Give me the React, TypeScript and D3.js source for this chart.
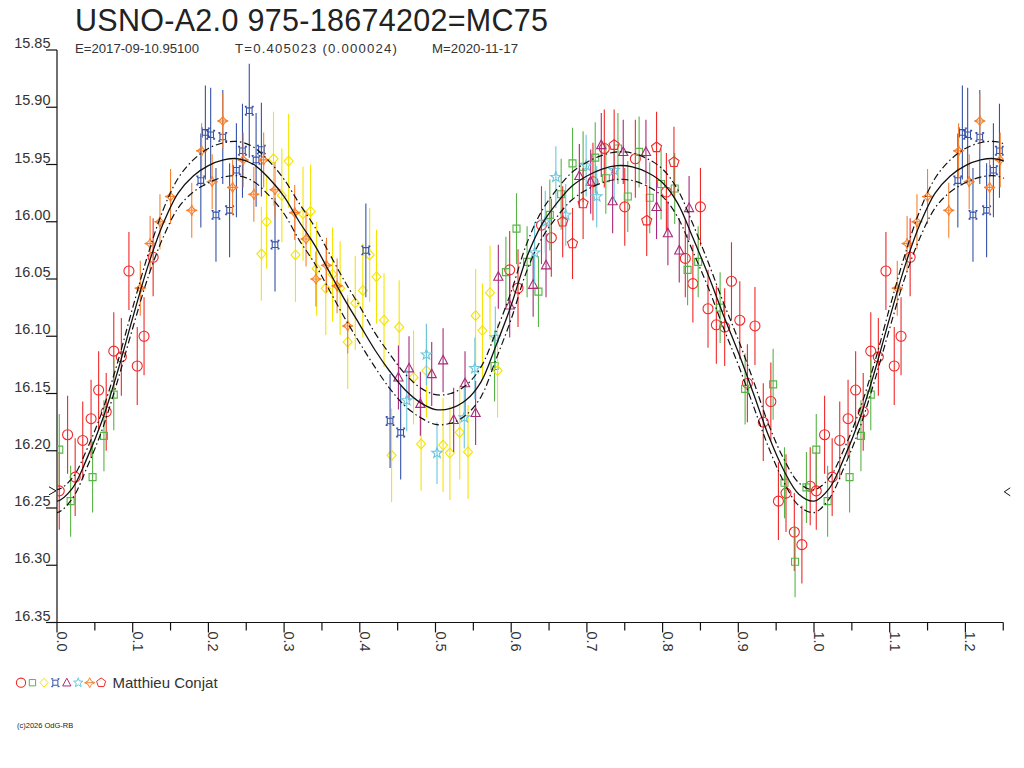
import React, { useEffect, useRef } from 'react';
import * as d3 from 'd3';

// phase / magnitude pairs, one list per observer symbol
const redCircles: [number, number][] = [
  [0.003, 16.235], [0.014, 16.186], [0.024, 16.223], [0.034, 16.191], [0.045, 16.172],
  [0.055, 16.147], [0.065, 16.166], [0.075, 16.113], [0.085, 16.118], [0.095, 16.043],
  [0.106, 16.126], [0.115, 16.100], [0.127, 16.031], [0.598, 16.042], [0.609, 16.058],
  [0.640, 16.003], [0.653, 16.014], [0.708, 15.965], [0.723, 15.936], [0.750, 15.987],
  [0.764, 15.945], [0.805, 15.974], [0.830, 16.032], [0.840, 16.054], [0.850, 15.987],
  [0.860, 16.076], [0.871, 16.090], [0.882, 16.092], [0.891, 16.052], [0.902, 16.086],
  [0.912, 16.141], [0.922, 16.091], [0.933, 16.175], [0.943, 16.157], [0.953, 16.244],
  [0.963, 16.237], [0.974, 16.271], [0.984, 16.282], [0.995, 16.231],
];
const greenSquares: [number, number][] = [
  [0.003, 16.199], [0.018, 16.244], [0.047, 16.223], [0.062, 16.187], [0.075, 16.151],
  [0.578, 16.126], [0.593, 16.044], [0.607, 16.006], [0.621, 16.035], [0.636, 16.061],
  [0.651, 15.994], [0.666, 15.976], [0.681, 15.949], [0.695, 15.952], [0.711, 15.944],
  [0.725, 15.962], [0.741, 15.936], [0.754, 15.978], [0.769, 15.939], [0.783, 15.979],
  [0.798, 15.967], [0.816, 15.971], [0.833, 16.042], [0.847, 16.035], [0.876, 16.075],
  [0.909, 16.146], [0.946, 16.142], [0.961, 16.228], [0.975, 16.297], [0.990, 16.232],
];
const yellowDiamonds: [number, number][] = [
  [0.270, 16.028], [0.277, 16.000], [0.286, 15.945], [0.297, 15.977], [0.306, 15.947],
  [0.315, 16.029], [0.325, 15.993], [0.335, 15.991], [0.343, 16.041], [0.355, 16.058],
  [0.364, 16.046], [0.374, 16.058], [0.384, 16.105], [0.394, 16.071], [0.404, 16.060],
  [0.413, 16.029], [0.422, 16.048], [0.432, 16.086], [0.442, 16.204], [0.452, 16.092],
  [0.471, 16.136], [0.481, 16.194], [0.488, 16.130], [0.510, 16.195], [0.519, 16.202],
  [0.532, 16.184], [0.543, 16.201], [0.553, 16.082], [0.562, 16.095], [0.572, 16.062],
  [0.582, 16.130],
];
const blueCrosses: [number, number][] = [
  [0.190, 15.964], [0.196, 15.922], [0.203, 15.924], [0.210, 15.994], [0.219, 15.926],
  [0.228, 15.990], [0.237, 15.955], [0.245, 15.938], [0.254, 15.903], [0.263, 15.946],
  [0.270, 15.937], [0.288, 16.020], [0.408, 16.025], [0.440, 16.174], [0.454, 16.184],
];
const purpleTriangles: [number, number][] = [
  [0.451, 16.136], [0.465, 16.128], [0.480, 16.159], [0.495, 16.133], [0.510, 16.121],
  [0.524, 16.173], [0.539, 16.141], [0.553, 16.167], [0.583, 16.048], [0.598, 16.073],
  [0.629, 16.055], [0.646, 16.038], [0.690, 15.960], [0.705, 15.965], [0.719, 15.933],
  [0.734, 15.982], [0.748, 15.939], [0.778, 15.939], [0.792, 15.987], [0.807, 16.010],
  [0.822, 16.025], [0.835, 15.988],
];
const cyanStars: [number, number][] = [
  [0.462, 16.156], [0.488, 16.116], [0.502, 16.202], [0.538, 16.171], [0.552, 16.128],
  [0.579, 16.101], [0.631, 16.027], [0.645, 16.000], [0.659, 15.961], [0.672, 15.994],
  [0.699, 15.951], [0.713, 15.978], [0.736, 15.955],
];
const orangeSparks: [number, number][] = [
  [0.110, 16.058], [0.123, 16.019], [0.136, 16.000], [0.150, 15.978], [0.178, 15.990],
  [0.191, 15.938], [0.205, 15.965], [0.219, 15.912], [0.232, 15.970], [0.246, 15.946],
  [0.260, 15.976], [0.273, 15.946], [0.288, 15.972], [0.314, 15.992], [0.329, 16.015],
  [0.342, 16.050], [0.356, 16.038], [0.370, 16.056], [0.384, 16.091],
];
const redPentagons: [number, number][] = [
  [0.668, 16.000], [0.681, 16.019], [0.695, 15.984], [0.736, 15.933], [0.779, 15.999],
  [0.792, 15.935], [0.815, 15.948],
];

// error bar half-lengths (mag) per series
const seriesErr = [0.034, 0.031, 0.041, 0.041, 0.028, 0.027, 0.024, 0.031];

// fitted mean curve and its envelope half-width, sampled every 0.02 in phase
const curvePhase = [
  0.00, 0.02, 0.04, 0.06, 0.08, 0.10, 0.12, 0.14, 0.16, 0.18, 0.20, 0.22, 0.24,
  0.26, 0.28, 0.30, 0.32, 0.34, 0.36, 0.38, 0.40, 0.42, 0.44, 0.46, 0.48, 0.50,
  0.52, 0.54, 0.56, 0.58, 0.60, 0.62, 0.64, 0.66, 0.68, 0.70, 0.72, 0.74, 0.76,
  0.78, 0.80, 0.82, 0.84, 0.86, 0.88, 0.90, 0.92, 0.94, 0.96, 0.98,
];
const curveMag = [
  16.244, 16.233, 16.206, 16.173, 16.131, 16.084, 16.039, 16.002, 15.975, 15.960, 15.951, 15.946, 15.945,
  15.950, 15.962, 15.978, 16.000, 16.020, 16.044, 16.068, 16.090, 16.112, 16.131, 16.147, 16.158, 16.164,
  16.163, 16.156, 16.140, 16.108, 16.073, 16.032, 16.003, 15.984, 15.969, 15.960, 15.954, 15.951, 15.952,
  15.957, 15.966, 15.984, 16.014, 16.046, 16.081, 16.114, 16.150, 16.187, 16.217, 16.238,
];
const curveSpread = [
  0.010, 0.009, 0.008, 0.008, 0.008, 0.009, 0.010, 0.012, 0.013, 0.014, 0.015, 0.015, 0.015,
  0.015, 0.015, 0.015, 0.016, 0.016, 0.016, 0.016, 0.016, 0.015, 0.015, 0.014, 0.013, 0.013,
  0.013, 0.013, 0.013, 0.012, 0.012, 0.012, 0.012, 0.012, 0.012, 0.012, 0.012, 0.012, 0.012,
  0.012, 0.012, 0.012, 0.012, 0.011, 0.011, 0.011, 0.011, 0.010, 0.010, 0.010,
];

const yTicks = [15.85, 15.90, 15.95, 16.00, 16.05, 16.10, 16.15, 16.20, 16.25, 16.30, 16.35];
const xMajor = [0.0, 0.1, 0.2, 0.3, 0.4, 0.5, 0.6, 0.7, 0.8, 0.9, 1.0, 1.1, 1.2];
const xMinor = [0.05, 0.15, 0.25, 0.35, 0.45, 0.55, 0.65, 0.75, 0.85, 0.95, 1.05, 1.15, 1.25];
const markerMag = 16.235;

const title = 'USNO-A2.0 975-18674202=MC75';
const subtitle = ['E=2017-09-10.95100', 'T=0.405023 (0.000024)', 'M=2020-11-17'];
const observer = 'Matthieu Conjat';
const footer = '(c)2026 OdG-RB';

const seriesData = [redCircles, greenSquares, yellowDiamonds, blueCrosses, purpleTriangles, cyanStars, orangeSparks, redPentagons];
const seriesColor = ['#f02828', '#58b446', '#f5e400', '#3552a8', '#a82a78', '#6ac6de', '#f8802e', '#f02828'];

const polyPath = (radii: number[], n: number) => {
  const pts: string[] = [];
  for (let i = 0; i < n; i++) {
    const r = radii[i % radii.length];
    const a = -Math.PI / 2 + (i * 2 * Math.PI) / n;
    pts.push(`${(r * Math.cos(a)).toFixed(2)},${(r * Math.sin(a)).toFixed(2)}`);
  }
  return 'M' + pts.join('L') + 'Z';
};

const symbols = [
  '', // circle drawn as <circle>
  'M-3.5,-3.5H3.5V3.5H-3.5Z',
  'M0,-5L4.5,0L0,5L-4.5,0Z',
  'M-2.8,-2.8H2.8V2.8H-2.8Z M-2.8,-2.8l-1.6,-1.6 M2.8,-2.8l1.6,-1.6 M2.8,2.8l1.6,1.6 M-2.8,2.8l-1.6,1.6 M-4.4,-4.4h2 M4.4,-4.4h-2 M-4.4,4.4h2 M4.4,4.4h-2',
  'M0,-5L4.6,3.6L-4.6,3.6Z',
  polyPath([5.5, 2.3], 10),
  'M0,-5.5Q1,-1 5.5,0Q1,1 0,5.5Q-1,1 -5.5,0Q-1,-1 0,-5.5Z M-5.5,0H5.5',
  polyPath([5.3], 5),
];

const App: React.FC = () => {
  const svgRef = useRef<SVGSVGElement>(null);

  useEffect(() => {
    if (!svgRef.current) return;
    const svg = d3.select(svgRef.current);
    svg.selectAll('*').remove();

    const font = "'Liberation Sans', Arial, sans-serif";
    const x = d3.scaleLinear().domain([0, 1.25]).range([57, 1003.25]);
    const y = d3.scaleLinear().domain([15.85, 16.35]).range([50, 622.5]);
    const x0 = x(0), y1 = y(16.35);

    svg.append('rect').attr('width', 1024).attr('height', 768).attr('fill', '#fff');

    svg.append('defs').append('clipPath').attr('id', 'plotclip')
      .append('rect').attr('x', x0).attr('y', 30).attr('width', x(1.25) - x0 + 0.5).attr('height', y1 - 30);

    // title block
    svg.append('text').attr('x', 75).attr('y', 31).attr('font-family', font)
      .attr('font-size', 30.5).attr('fill', '#222')
      .attr('textLength', 473).attr('lengthAdjust', 'spacing').text(title);
    const subX = [75, 235, 432];
    const subW = [124, 162, 86];
    subtitle.forEach((s, i) => {
      svg.append('text').attr('x', subX[i]).attr('y', 53).attr('font-family', font)
        .attr('font-size', 13.2).attr('fill', '#333')
        .attr('textLength', subW[i]).attr('lengthAdjust', 'spacing').text(s);
    });

    // axes
    const axis = svg.append('g').attr('stroke', '#111').attr('stroke-width', 1.2).attr('fill', 'none');
    axis.append('line').attr('x1', x0).attr('x2', x0).attr('y1', y(15.85)).attr('y2', y1);
    axis.append('line').attr('x1', x0).attr('x2', x(1.25)).attr('y1', y1).attr('y2', y1);
    yTicks.forEach((t) => {
      axis.append('line').attr('x1', x0 - 11).attr('x2', x0).attr('y1', y(t)).attr('y2', y(t));
    });
    xMajor.forEach((t) => {
      axis.append('line').attr('x1', x(t)).attr('x2', x(t)).attr('y1', y1).attr('y2', y1 + 10);
    });
    xMinor.forEach((t) => {
      axis.append('line').attr('x1', x(t)).attr('x2', x(t)).attr('y1', y1).attr('y2', y1 + 8);
    });
    yTicks.forEach((t) => {
      svg.append('text').attr('x', 50.5).attr('y', y(t) - 2).attr('text-anchor', 'end')
        .attr('font-family', font).attr('font-size', 14.5).attr('fill', '#333').text(t.toFixed(2));
    });
    xMajor.forEach((t) => {
      svg.append('text').attr('transform', `translate(${x(t)},${y1 + 9}) rotate(90)`)
        .attr('font-family', font).attr('font-size', 14.5).attr('fill', '#333').text(t.toFixed(1));
    });

    // min-level chevrons
    const ym = y(markerMag);
    axis.append('path').attr('d', `M${x0 - 8},${ym - 4}L${x0 - 1},${ym}L${x0 - 8},${ym + 4}`).attr('stroke-width', 1);
    axis.append('path').attr('d', `M${x(1.25) + 7},${ym - 3}L${x(1.25) + 1},${ym + 1}L${x(1.25) + 7},${ym + 5}`).attr('stroke-width', 1);

    const plot = svg.append('g').attr('clip-path', 'url(#plotclip)');

    // data: error bars then symbols, phases <= 0.25 repeated one cycle later
    seriesData.forEach((data, si) => {
      const pts = data.concat(data.filter((d) => d[0] + 1 <= 1.25).map((d) => [d[0] + 1, d[1]] as [number, number]));
      const g = plot.append('g').attr('stroke', seriesColor[si]).attr('fill', 'none');
      pts.forEach(([p, m]) => {
        g.append('line').attr('x1', x(p)).attr('x2', x(p))
          .attr('y1', y(m - seriesErr[si])).attr('y2', y(m + seriesErr[si])).attr('stroke-width', 1.1);
      });
      pts.forEach(([p, m]) => {
        if (si === 0) {
          g.append('circle').attr('cx', x(p)).attr('cy', y(m)).attr('r', 5).attr('stroke-width', 1.1);
        } else {
          g.append('path').attr('transform', `translate(${x(p)},${y(m)})`)
            .attr('d', symbols[si]).attr('stroke-width', 1.1);
        }
      });
    });

    // fitted curve and envelopes
    const base = curvePhase.map((p, i) => ({ p, m: curveMag[i], s: curveSpread[i] }));
    const pts = [
      ...base.slice(-2).map((d) => ({ ...d, p: d.p - 1 })),
      ...base,
      ...base.filter((d) => d.p <= 0.3).map((d) => ({ ...d, p: d.p + 1 })),
    ];
    const line = (off: number) => d3.line<{ p: number; m: number; s: number }>()
      .x((d) => x(d.p)).y((d) => y(d.m + off * d.s)).curve(d3.curveCatmullRom)(pts);
    const cg = plot.append('g').attr('fill', 'none').attr('stroke', '#111');
    cg.append('path').attr('d', line(0)).attr('stroke-width', 1.3);
    cg.append('path').attr('d', line(-1)).attr('stroke-width', 1.2).attr('stroke-dasharray', '7,3,1.5,3');
    cg.append('path').attr('d', line(1)).attr('stroke-width', 1.2).attr('stroke-dasharray', '7,3,1.5,3');

    // legend
    seriesColor.forEach((c, i) => {
      const lx = 21 + i * 11.45, ly = 682.7;
      if (i === 0) {
        svg.append('circle').attr('cx', lx).attr('cy', ly).attr('r', 4.6).attr('fill', 'none').attr('stroke', c).attr('stroke-width', 1.1);
      } else {
        svg.append('path').attr('transform', `translate(${lx},${ly}) scale(0.9)`)
          .attr('d', symbols[i]).attr('fill', 'none').attr('stroke', c).attr('stroke-width', 1.1);
      }
    });
    svg.append('text').attr('x', 112.5).attr('y', 687.5).attr('font-family', font)
      .attr('font-size', 15).attr('fill', '#333').text(observer);

    svg.append('text').attr('x', 17).attr('y', 728).attr('font-family', font)
      .attr('font-size', 7.5).attr('fill', '#222').text(footer);
  }, []);

  return (
    <svg ref={svgRef} width={1024} height={768}
      style={{ position: 'absolute', left: 0, top: 0, display: 'block' }} />
  );
};

export default App;
